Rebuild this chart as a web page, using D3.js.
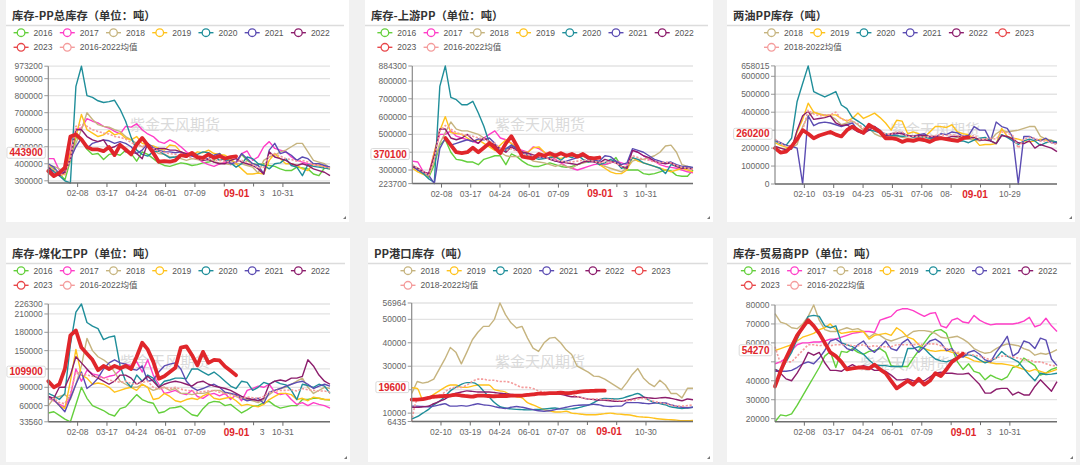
<!DOCTYPE html>
<html><head><meta charset="utf-8">
<script src="https://cdn.jsdelivr.net/npm/d3@7/dist/d3.min.js"></script>
<style>
html,body{margin:0;padding:0;background:#f1f1f1;}
svg{display:block;}
</style></head><body>
<svg id="c" width="1080" height="465"></svg>
<script>
// ---------------- DATA (weekly points, tons) ----------------
const xLabA = ["02-08","03-17","04-24","06-01","07-09","08-16","09-23","10-31"];
const xLabB = ["02-10","03-19","04-23","05-31","07-06","08-12","09-22","10-29"];
const xLabC = ["02-10","03-19","04-24","06-01","07-07","08-14","09-21","10-30"];
const nowLabel = "09-01";
const watermark = "紫金天风期货";

// Panel 1: 库存-PP总库存
const totTicks = [300000,400000,500000,600000,700000,800000,900000,973200];
const tot2016 = [390e3,370e3,345e3,305e3,420e3,555e3,540e3,485e3,455e3,460e3,425e3,455e3,460e3,450e3,480e3,460e3,415e3,470e3,455e3,430e3,405e3,390e3,385e3,395e3,405e3,400e3,390e3,395e3,405e3,410e3,420e3,460e3,430e3,420e3,405e3,455e3,420e3,400e3,395e3,400e3,390e3,385e3,370e3,360e3,360e3,380e3,375e3,370e3,340e3,330e3,375e3,370e3];
const tot2017 = [430e3,430e3,360e3,350e3,470e3,605e3,610e3,665e3,650e3,640e3,620e3,610e3,590e3,575e3,620e3,615e3,635e3,600e3,575e3,560e3,530e3,520e3,540e3,525e3,500e3,470e3,450e3,430e3,410e3,395e3,385e3,400e3,410e3,395e3,405e3,460e3,475e3,420e3,440e3,500e3,530e3,490e3,480e3,470e3,440e3,420e3,410e3,400e3,395e3,390e3,385e3,380e3];
const tot2018 = [390e3,385e3,370e3,355e3,420e3,520e3,600e3,700e3,660e3,630e3,620e3,615e3,600e3,590e3,560e3,540e3,520e3,500e3,510e3,480e3,460e3,455e3,440e3,440e3,430e3,420e3,430e3,425e3,420e3,430e3,410e3,405e3,400e3,395e3,400e3,400e3,390e3,380e3,345e3,420e3,440e3,450e3,470e3,480e3,500e3,520e3,520e3,470e3,420e3,410e3,400e3,375e3];
const tot2019 = [390e3,360e3,330e3,340e3,460e3,560e3,690e3,600e3,580e3,560e3,570e3,595e3,570e3,580e3,550e3,540e3,560e3,520e3,510e3,505e3,490e3,480e3,510e3,505e3,470e3,460e3,450e3,470e3,465e3,480e3,460e3,455e3,450e3,430e3,400e3,370e3,340e3,340e3,345e3,340e3,420e3,460e3,430e3,400e3,400e3,390e3,370e3,360e3,400e3,390e3,380e3,370e3];
const tot2020 = [380e3,355e3,330e3,300e3,287e3,855e3,973.2e3,800e3,790e3,770e3,760e3,765e3,773e3,720e3,650e3,555e3,480e3,455e3,445e3,470e3,475e3,455e3,435e3,440e3,450e3,440e3,460e3,455e3,470e3,465e3,445e3,420e3,430e3,405e3,380e3,400e3,440e3,430e3,400e3,390e3,370e3,400e3,405e3,430e3,390e3,380e3,330e3,395e3,385e3,380e3,375e3,370e3];
const tot2021 = [400e3,380e3,340e3,350e3,430e3,500e3,550e3,490e3,520e3,530e3,540e3,535e3,520e3,530e3,520e3,500e3,460e3,480e3,520e3,495e3,480e3,470e3,470e3,465e3,470e3,450e3,445e3,440e3,430e3,430e3,450e3,460e3,420e3,400e3,410e3,460e3,430e3,400e3,390e3,340e3,480e3,520e3,460e3,470e3,450e3,420e3,440e3,430e3,400e3,400e3,390e3,380e3];
const tot2022 = [380e3,340e3,330e3,350e3,430e3,600e3,600e3,560e3,540e3,530e3,540e3,490e3,500e3,520e3,470e3,470e3,460e3,430e3,520e3,480e3,490e3,490e3,480e3,480e3,470e3,460e3,450e3,430e3,420e3,425e3,410e3,400e3,400e3,420e3,430e3,410e3,400e3,390e3,370e3,340e3,470e3,440e3,430e3,420e3,400e3,390e3,400e3,390e3,370e3,360e3,350e3,330e3];
const totAvg = [390e3,365e3,340e3,335e3,430e3,620e3,630e3,620e3,600e3,590e3,580e3,575e3,560e3,555e3,545e3,525e3,510e3,500e3,510e3,490e3,475e3,465e3,460e3,455e3,450e3,440e3,435e3,430e3,425e3,430e3,420e3,420e3,415e3,410e3,410e3,420e3,410e3,395e3,375e3,380e3,450e3,460e3,445e3,430e3,425e3,415e3,420e3,410e3,395e3,390e3,380e3,375e3];
const tot2023 = [357e3,328e3,347e3,377e3,560e3,572e3,543e3,498e3,484e3,484e3,474e3,498e3,451e3,510e3,484e3,455e3,513e3,552e3,510e3,464e3,412e3,416e3,412e3,420e3,451e3,445e3,464e3,439e3,435e3,455e3,435e3,445e3,431e3,439e3,443.9e3];

// Panel 2: 库存-上游PP
const upTicks = [223700,300000,400000,500000,600000,700000,800000,884300];
const up2016 = [320e3,310e3,290e3,260e3,330e3,440e3,470e3,400e3,360e3,355e3,345e3,345e3,330e3,360e3,370e3,380e3,380e3,330e3,390e3,375e3,350e3,330e3,320e3,320e3,330e3,340e3,330e3,320e3,315e3,320e3,330e3,340e3,350e3,360e3,340e3,330e3,340e3,370e3,320e3,300e3,300e3,300e3,280e3,275e3,280e3,290e3,300e3,295e3,270e3,265e3,265e3,300e3];
const up2017 = [350e3,345e3,290e3,280e3,400e3,500e3,500e3,520e3,490e3,480e3,470e3,460e3,450e3,480e3,500e3,520e3,480e3,470e3,450e3,420e3,410e3,400e3,430e3,420e3,400e3,380e3,360e3,340e3,320e3,310e3,300e3,310e3,320e3,330e3,335e3,330e3,340e3,350e3,340e3,330e3,410e3,400e3,380e3,360e3,350e3,330e3,320e3,315e3,310e3,300e3,290e3,285e3];
const up2018 = [320e3,300e3,280e3,270e3,350e3,450e3,510e3,570e3,530e3,520e3,520e3,510e3,500e3,480e3,460e3,440e3,400e3,380e3,375e3,375e3,380e3,370e3,350e3,345e3,340e3,330e3,320e3,330e3,320e3,310e3,330e3,340e3,345e3,350e3,330e3,320e3,310e3,300e3,290e3,310e3,350e3,360e3,360e3,370e3,380e3,400e3,435e3,440e3,400e3,330e3,320e3,310e3];
const up2019 = [310e3,290e3,275e3,270e3,400e3,520e3,600e3,510e3,505e3,500e3,480e3,460e3,470e3,450e3,430e3,410e3,440e3,470e3,450e3,420e3,400e3,400e3,425e3,430e3,400e3,380e3,370e3,365e3,375e3,380e3,385e3,375e3,370e3,360e3,330e3,310e3,290e3,280e3,280e3,300e3,370e3,350e3,340e3,330e3,320e3,310e3,300e3,290e3,300e3,310e3,300e3,290e3];
const up2020 = [330e3,300e3,280e3,250e3,230e3,770e3,884.3e3,708e3,695e3,667e3,667e3,686e3,620e3,546e3,452e3,430e3,420e3,410e3,440e3,420e3,400e3,380e3,370e3,360e3,365e3,370e3,375e3,355e3,380e3,370e3,385e3,360e3,345e3,350e3,330e3,340e3,360e3,345e3,310e3,320e3,370e3,360e3,340e3,330e3,320e3,310e3,280e3,330e3,320e3,315e3,310e3,310e3];
const up2021 = [320e3,300e3,290e3,270e3,223.7e3,420e3,480e3,440e3,450e3,460e3,470e3,460e3,475e3,470e3,480e3,450e3,400e3,420e3,440e3,420e3,400e3,390e3,380e3,370e3,370e3,365e3,350e3,345e3,350e3,360e3,370e3,380e3,360e3,355e3,350e3,380e3,375e3,350e3,330e3,340e3,420e3,410e3,400e3,380e3,360e3,350e3,340e3,345e3,330e3,320e3,320e3,315e3];
const up2022 = [320e3,310e3,290e3,280e3,380e3,530e3,530e3,480e3,470e3,480e3,500e3,470e3,450e3,480e3,460e3,440e3,420e3,400e3,430e3,410e3,400e3,395e3,385e3,380e3,375e3,360e3,350e3,345e3,340e3,335e3,330e3,345e3,350e3,345e3,340e3,360e3,350e3,340e3,320e3,310e3,410e3,400e3,380e3,370e3,350e3,340e3,335e3,340e3,320e3,310e3,310e3,305e3];
const upAvg = [330e3,310e3,290e3,270e3,360e3,520e3,550e3,530e3,510e3,500e3,495e3,490e3,480e3,475e3,460e3,450e3,420e3,410e3,420e3,405e3,390e3,385e3,380e3,375e3,370e3,365e3,355e3,350e3,345e3,345e3,350e3,355e3,355e3,350e3,340e3,345e3,345e3,340e3,320e3,320e3,380e3,370e3,360e3,355e3,345e3,340e3,345e3,340e3,325e3,315e3,310e3,305e3];
const up2023 = [null,null,null,null,null,null,480e3,440e3,400e3,395e3,400e3,425e3,400e3,425e3,450e3,425e3,395e3,450e3,490e3,435e3,375e3,370e3,365e3,390e3,380e3,395e3,380e3,395e3,380e3,390e3,375e3,390e3,370e3,365e3,370.1e3];

// Panel 3: 两油PP库存
const lyTicks = [0,100000,200000,300000,400000,500000,600000,658015];
const ly2018 = [210e3,200e3,195e3,200e3,220e3,320e3,380e3,400e3,390e3,385e3,380e3,360e3,330e3,340e3,350e3,330e3,300e3,310e3,280e3,265e3,265e3,260e3,265e3,260e3,255e3,250e3,245e3,245e3,250e3,250e3,250e3,255e3,250e3,260e3,255e3,250e3,245e3,240e3,250e3,245e3,280e3,300e3,290e3,295e3,300e3,310e3,320e3,320e3,265e3,250e3,245e3,225e3];
const ly2019 = [230e3,215e3,205e3,200e3,290e3,360e3,450e3,400e3,390e3,380e3,385e3,385e3,365e3,350e3,365e3,395e3,365e3,380e3,395e3,370e3,340e3,300e3,355e3,350e3,280e3,290e3,280e3,260e3,290e3,320e3,320e3,315e3,330e3,290e3,280e3,275e3,250e3,215e3,220e3,220e3,225e3,310e3,265e3,255e3,250e3,240e3,235e3,240e3,250e3,245e3,240e3,230e3];
const ly2020 = [240e3,225e3,215e3,255e3,460e3,560e3,658.015e3,515e3,500e3,485e3,500e3,515e3,440e3,420e3,370e3,350e3,330e3,300e3,295e3,285e3,280e3,270e3,270e3,265e3,270e3,260e3,265e3,260e3,255e3,250e3,260e3,255e3,250e3,240e3,240e3,230e3,245e3,255e3,260e3,240e3,225e3,275e3,260e3,240e3,220e3,240e3,250e3,240e3,215e3,230e3,240e3,235e3];
const ly2021 = [245e3,230e3,215e3,210e3,200e3,0,380e3,325e3,340e3,345e3,340e3,330e3,320e3,330e3,340e3,300e3,280e3,320e3,320e3,300e3,270e3,275e3,280e3,285e3,270e3,265e3,275e3,280e3,260e3,260e3,280e3,275e3,290e3,285e3,265e3,270e3,320e3,300e3,300e3,240e3,345e3,320e3,310e3,260e3,0,265e3,265e3,250e3,240e3,255e3,230e3,230e3];
const ly2022 = [210e3,200e3,190e3,195e3,300e3,380e3,405e3,360e3,365e3,370e3,380e3,340e3,325e3,330e3,310e3,290e3,280e3,300e3,320e3,290e3,270e3,280e3,285e3,280e3,270e3,265e3,270e3,270e3,265e3,265e3,260e3,255e3,265e3,265e3,265e3,255e3,260e3,245e3,245e3,240e3,225e3,270e3,265e3,250e3,230e3,225e3,240e3,200e3,220e3,210e3,200e3,180e3];
const lyAvg = [250e3,225e3,210e3,210e3,240e3,300e3,410e3,390e3,380e3,385e3,385e3,400e3,360e3,355e3,350e3,335e3,310e3,320e3,310e3,295e3,280e3,275e3,290e3,290e3,265e3,265e3,265e3,260e3,265e3,270e3,275e3,270e3,275e3,270e3,265e3,260e3,270e3,250e3,250e3,255e3,250e3,290e3,285e3,270e3,200e3,250e3,260e3,255e3,240e3,240e3,230e3,220e3];
const ly2023 = [200e3,175e3,180e3,210e3,250e3,300e3,280e3,255e3,270e3,280e3,290e3,275e3,265e3,300e3,320e3,300e3,285e3,330e3,310e3,290e3,255e3,255e3,250e3,235e3,245e3,240e3,250e3,245e3,235e3,250e3,255e3,250e3,245e3,240e3,255e3,260.2e3];

// Panel 4: 库存-煤化工PP
const mhTicks = [33560,60000,90000,120000,150000,180000,210000,226300];
const mh2016 = [48e3,50e3,44e3,38e3,33.56e3,62e3,90e3,72e3,60e3,56e3,52e3,46e3,43e3,55e3,58e3,68e3,78e3,70e3,66e3,64e3,48e3,50e3,56e3,57e3,59e3,52e3,45e3,43e3,55e3,64e3,67e3,66e3,60e3,62e3,55e3,48e3,53e3,59e3,60e3,65e3,67e3,60e3,56e3,58e3,60e3,60e3,70e3,70e3,72e3,72e3,70e3,69e3];
const mh2017 = [72e3,68e3,62e3,58e3,75e3,120e3,100e3,118e3,112e3,110e3,105e3,108e3,110e3,118e3,128e3,125e3,132e3,115e3,135e3,110e3,95e3,80e3,82e3,85e3,80e3,78e3,85e3,75e3,72e3,78e3,80e3,76e3,80e3,70e3,78e3,68e3,85e3,88e3,92e3,90e3,95e3,82e3,78e3,80e3,70e3,62e3,65e3,60e3,65e3,62e3,60e3,56e3];
const mh2018 = [60e3,72e3,75e3,78e3,70e3,95e3,125e3,170e3,150e3,140e3,135e3,128e3,115e3,100e3,95e3,90e3,90e3,95e3,90e3,85e3,88e3,90e3,85e3,88e3,80e3,80e3,78e3,80e3,80e3,82e3,85e3,85e3,80e3,80e3,75e3,72e3,70e3,68e3,65e3,70e3,78e3,85e3,88e3,90e3,95e3,100e3,105e3,90e3,80e3,85e3,90e3,88e3];
const mh2019 = [75e3,70e3,60e3,55e3,100e3,152e3,110e3,105e3,95e3,97e3,95e3,90e3,82e3,85e3,88e3,90e3,85e3,95e3,90e3,70e3,72e3,80e3,75e3,68e3,66e3,70e3,72e3,70e3,76e3,80e3,72e3,70e3,72e3,74e3,68e3,60e3,62e3,60e3,58e3,62e3,70e3,75e3,80e3,80e3,78e3,70e3,72e3,68e3,74e3,72e3,70e3,70e3];
const mh2020 = [80e3,76e3,70e3,80e3,160e3,213e3,226.3e3,196e3,190e3,186e3,168e3,172e3,174e3,125e3,100e3,90e3,110e3,100e3,110e3,105e3,90e3,100e3,102e3,105e3,105e3,104e3,120e3,120e3,115e3,110e3,115e3,108e3,100e3,92e3,88e3,100e3,98e3,85e3,90e3,98e3,95e3,100e3,96e3,94e3,85e3,70e3,95e3,93e3,90e3,95e3,92e3,80e3];
const mh2021 = [75e3,70e3,60e3,50e3,72e3,95e3,115e3,88e3,95e3,105e3,120e3,130e3,135e3,130e3,128e3,120e3,118e3,125e3,100e3,102e3,115e3,125e3,128e3,130e3,120e3,100e3,90e3,85e3,88e3,92e3,95e3,90e3,82e3,80e3,78e3,72e3,68e3,70e3,72e3,64e3,82e3,85e3,88e3,92e3,95e3,98e3,100e3,95e3,88e3,92e3,95e3,92e3];
const mh2022 = [75e3,72e3,90e3,90e3,110e3,140e3,130e3,120e3,110e3,105e3,100e3,95e3,100e3,110e3,110e3,105e3,95e3,100e3,108e3,100e3,90e3,95e3,98e3,100e3,98e3,95e3,92e3,98e3,100e3,95e3,92e3,90e3,88e3,85e3,80e3,75e3,72e3,70e3,68e3,72e3,95e3,100e3,102e3,100e3,105e3,105e3,108e3,135e3,125e3,110e3,100e3,95e3];
const mhAvg = [70e3,72e3,65e3,63e3,80e3,115e3,112e3,110e3,108e3,107e3,105e3,102e3,100e3,98e3,100e3,96e3,95e3,98e3,100e3,90e3,87e3,90e3,88e3,90e3,87e3,85e3,84e3,82e3,83e3,84e3,85e3,82e3,80e3,78e3,76e3,72e3,74e3,73e3,72e3,75e3,82e3,84e3,85e3,85e3,86e3,84e3,88e3,86e3,85e3,84e3,84e3,82e3];
const mh2023 = [100e3,90e3,95e3,120e3,175e3,183e3,155e3,145e3,135e3,118e3,125e3,120e3,125e3,121e3,125e3,120e3,140e3,163e3,152e3,132e3,104e3,108e3,115e3,122e3,155e3,157e3,143e3,126e3,148e3,130e3,135e3,134e3,124e3,117e3,109.9e3];

// Panel 5: PP港口库存
const portTicks = [6435,10000,20000,30000,40000,50000,56964];
const port2018 = [18.4e3,23.5e3,22.8e3,23.3e3,24.5e3,28.8e3,33e3,38e3,36e3,31e3,36e3,41.3e3,44.5e3,47e3,47e3,50e3,56.964e3,52e3,48.5e3,46.3e3,47e3,42e3,37.7e3,36.3e3,40e3,42e3,42.3e3,40e3,37e3,35e3,30e3,28.8e3,27.5e3,25.8e3,25.6e3,24.5e3,23e3,21.5e3,20e3,23e3,26.5e3,29e3,25e3,22.7e3,21.3e3,24e3,22e3,18.4e3,18.4e3,16.5e3,20.6e3,20.6e3];
const port2019 = [20.8e3,20.5e3,16e3,16.5e3,18e3,19.5e3,21e3,22e3,22e3,21e3,21e3,21.5e3,22e3,22e3,22e3,20e3,19.5e3,19e3,17.5e3,17e3,16.5e3,14.5e3,13.5e3,12.5e3,11.5e3,11e3,10.5e3,10.5e3,10.8e3,10e3,9.8e3,9.5e3,9.3e3,9.3e3,9.5e3,9.8e3,10e3,9.7e3,9.5e3,9.3e3,9e3,8.5e3,8.3e3,8.2e3,7.8e3,7.5e3,7.3e3,7.2e3,7e3,6.8e3,6.8e3,6.9e3];
const port2020 = [7.5e3,8.5e3,10e3,11.5e3,13.5e3,15e3,17e3,19.5e3,21e3,22.3e3,23e3,23e3,22e3,19.5e3,17e3,14.5e3,12.8e3,12.2e3,11.8e3,11.6e3,11.5e3,11.4e3,11.5e3,11.6e3,11.8e3,12e3,12.2e3,11.8e3,11.7e3,11.8e3,12.2e3,12.8e3,13.4e3,14.5e3,15.8e3,16.3e3,16.2e3,16e3,16.3e3,17e3,17.7e3,18.4e3,17e3,15.5e3,14.5e3,14.1e3,13.5e3,12.7e3,12.3e3,12e3,12.2e3,12.5e3];
const port2021 = [13e3,13e3,12.8e3,12.7e3,13e3,13.5e3,14e3,13e3,13e3,13.2e3,13e3,13.5e3,14e3,13.5e3,13.3e3,12.8e3,12.3e3,12e3,12.5e3,12.8e3,12.5e3,12e3,11.5e3,11e3,10.8e3,11e3,11.5e3,12e3,12.5e3,13e3,13.3e3,13.5e3,13.5e3,13.8e3,13.5e3,13e3,12.8e3,13e3,13e3,14.5e3,14.5e3,14.5e3,14.2e3,14e3,14.3e3,14.5e3,14.3e3,13.5e3,13e3,12.5e3,12.3e3,12.5e3];
const port2022 = [12.5e3,12.5e3,12.7e3,13e3,14e3,15e3,16e3,17.5e3,18.5e3,19e3,19.5e3,19.3e3,19e3,19e3,19e3,18.8e3,18.5e3,18.3e3,18e3,17.8e3,17.8e3,18e3,18e3,18e3,18.3e3,18.5e3,18.3e3,18e3,17.5e3,17e3,17e3,16.5e3,16e3,15.8e3,15.6e3,15.5e3,15.3e3,15e3,15e3,15.5e3,16e3,16.5e3,16.8e3,16.5e3,16.3e3,16.5e3,16.7e3,16.3e3,15.8e3,15.3e3,16e3,15.7e3];
const portAvg = [6.435e3,15.5e3,16e3,16e3,16.5e3,17e3,19e3,20.5e3,21e3,21e3,22e3,23.5e3,24.5e3,24.5e3,24e3,24e3,23.5e3,23.5e3,23e3,22e3,21e3,21e3,20.5e3,19.5e3,19e3,18.5e3,18.5e3,18.5e3,18.5e3,18e3,17e3,16.5e3,16e3,16e3,16e3,15.8e3,15.8e3,15.5e3,15.3e3,15.3e3,15.5e3,16e3,16.3e3,15.5e3,15e3,14.5e3,14e3,13.5e3,13e3,13e3,13.2e3,13.5e3];
const port2023 = [15.8e3,15.8e3,16e3,16.5e3,17e3,17.2e3,17.3e3,17.5e3,17.8e3,17.5e3,17.3e3,17e3,17.5e3,17.5e3,17.3e3,17.2e3,17.3e3,17.3e3,17.5e3,17.5e3,17.5e3,17.8e3,18e3,18.3e3,18.3e3,18.5e3,18.5e3,18.7e3,18.5e3,18.6e3,19e3,19.3e3,19.4e3,19.5e3,19.6e3,19.6e3];

// Panel 6: 库存-贸易商PP
const trdTicks = [20000,30000,40000,50000,60000,70000,80000];
const trd2016 = [18.4e3,22e3,21.5e3,22.5e3,27e3,32e3,37e3,42e3,47e3,53e3,55.5e3,47e3,55.5e3,55e3,57e3,55e3,54e3,55.5e3,56e3,57e3,55e3,48e3,47.5e3,47.5e3,47.5e3,52e3,56e3,60e3,64e3,66.5e3,67e3,65e3,57e3,50e3,46e3,49e3,45e3,44e3,40.5e3,43e3,41.5e3,40.5e3,42e3,47e3,48e3,52e3,50e3,48e3,43e3,44e3,46e3,47e3];
const trd2017 = [49e3,50e3,52e3,56e3,59e3,60e3,60e3,60.5e3,60.5e3,61e3,62e3,62e3,63e3,64e3,65e3,65.5e3,66e3,66e3,65.5e3,72e3,73e3,74e3,77e3,78e3,78e3,77e3,75.5e3,74e3,75.5e3,76e3,69e3,68e3,72e3,73e3,71e3,70.5e3,74.5e3,72e3,70.5e3,69.5e3,70e3,70e3,70e3,70e3,70.5e3,71.5e3,73.5e3,68.5e3,69.5e3,73e3,69e3,66e3];
const trd2018 = [75.5e3,71e3,70e3,68e3,67.5e3,70e3,74e3,80e3,72e3,67e3,66e3,66e3,67e3,68e3,67e3,67.5e3,66e3,63e3,65e3,64e3,62e3,61e3,62e3,63e3,64e3,66e3,66.5e3,66.5e3,66e3,65e3,63e3,62.5e3,63e3,63.5e3,62e3,60e3,57e3,55.5e3,54.5e3,55e3,57e3,58.5e3,59.5e3,59e3,58.5e3,57e3,56e3,53.5e3,54.5e3,54e3,55e3,56.5e3];
const trd2019 = [56e3,57e3,58e3,59e3,61e3,63e3,64e3,65e3,67e3,68e3,70e3,67e3,65e3,65.5e3,66e3,66e3,66e3,62e3,64e3,64.5e3,65e3,64e3,68e3,66e3,63e3,62e3,59e3,57e3,56e3,55.5e3,56e3,56e3,55e3,54.5e3,53e3,52e3,50.5e3,50e3,50e3,49.5e3,49e3,49e3,48.5e3,48e3,47e3,46e3,45e3,46e3,45e3,44e3,45e3,46e3];
const trd2020 = [46e3,45e3,50e3,55e3,62e3,68e3,74e3,74.5e3,74e3,69e3,68e3,69e3,60e3,59e3,58e3,56e3,54e3,51e3,48.5e3,48e3,48e3,47.5e3,47.5e3,47.5e3,57e3,57e3,58e3,57e3,54e3,51.5e3,50.5e3,50e3,51e3,52.5e3,53e3,53.8e3,53e3,51e3,49.5e3,50.5e3,52e3,55.5e3,53e3,51.5e3,50e3,46.5e3,43e3,40e3,44e3,43.3e3,43.5e3,44e3];
const trd2021 = [45e3,45e3,45e3,45.5e3,47e3,49e3,50e3,49e3,52e3,56e3,61e3,62e3,60e3,57e3,56e3,59e3,61e3,57e3,55e3,58e3,61e3,57e3,56e3,60e3,62e3,58e3,55e3,58e3,61e3,62e3,60e3,56e3,57e3,53e3,52.5e3,55e3,56e3,54e3,51e3,50e3,55e3,59e3,63.5e3,53e3,55e3,61e3,60e3,57e3,62.5e3,61.5e3,51.5e3,48e3];
const trd2022 = [46e3,44e3,41e3,40e3,44e3,49e3,55e3,53.5e3,55e3,49.5e3,45.5e3,45.5e3,45e3,47e3,48.5e3,47e3,48e3,47e3,45.5e3,45.5e3,45e3,43e3,40.5e3,40.5e3,41e3,40e3,39.5e3,40e3,42e3,44e3,44.5e3,44e3,44e3,43.5e3,43.5e3,44e3,41e3,38e3,33.5e3,33.5e3,35.5e3,36e3,36e3,32.5e3,34e3,32.5e3,32.5e3,37e3,40.5e3,37.5e3,34.5e3,39.5e3];
const trdAvg = [58e3,49e3,50e3,50e3,53e3,56e3,59e3,59e3,58.5e3,59e3,58.5e3,59e3,59e3,59e3,58.5e3,58.5e3,59e3,58e3,58.5e3,58e3,58e3,58e3,59e3,59e3,59e3,59e3,59.5e3,59e3,59.5e3,59.5e3,58.5e3,57e3,56e3,55e3,55e3,54e3,53.5e3,53e3,52e3,51e3,52e3,53e3,53e3,52.5e3,52e3,51e3,51e3,50e3,50e3,49e3,48e3,48e3];
const trd2023 = [37e3,45e3,52e3,58e3,64e3,68e3,72e3,69e3,65e3,60e3,55e3,53e3,50e3,46e3,46.5e3,47e3,47e3,46.5e3,48.5e3,46e3,44e3,40e3,36e3,38e3,40e3,38e3,41e3,38e3,40e3,44e3,42.5e3,46e3,50e3,52e3,54.27e3];

// ---------------- STYLE / LAYOUT ----------------
const COLORS = {"2016":"#64cf3c","2017":"#ff3ec8","2018":"#c6b47f","2019":"#ffc21c","2020":"#1f8e9a","2021":"#5b4cb2","2022":"#8c1d6c","2023":"#e0262b","avg":"#f49c9c"};
const LEG_COLORS = Object.assign({}, COLORS, {"2023":"#e8474a"});
const NUM_FONT = "'Liberation Sans', Arial, 'Noto Sans CJK SC', sans-serif";
const CJK_FONT = "'Noto Sans CJK SC', sans-serif";

const panels = [
  {title:"库存-PP总库存（单位：吨）", box:[6,0,343,222], plot:[48.3,66.2,330,183], legCx:171.7,
   names:["2016","2017","2018","2019","2020","2021","2022"], data:[tot2016,tot2017,tot2018,tot2019,tot2020,tot2021,tot2022],
   avgName:"2016-2022均值", avg:totAvg, cur:tot2023, ticks:totTicks, hidden:[], xlab:xLabA, nowSlot:244, wm:[175,123]},
  {title:"库存-上游PP（单位：吨）", box:[365,0,348,222], plot:[412.3,66,693,183.6], legCx:535.5,
   names:["2016","2017","2018","2019","2020","2021","2022"], data:[up2016,up2017,up2018,up2019,up2020,up2021,up2022],
   avgName:"2016-2022均值", avg:upAvg, cur:up2023, ticks:upTicks, hidden:[400000], xlab:xLabA, nowSlot:244, wm:[540,123]},
  {title:"两油PP库存（吨）", box:[727,0,348,222], plot:[775,65.9,1057,184], legCx:899,
   names:["2018","2019","2020","2021","2022"], data:[ly2018,ly2019,ly2020,ly2021,ly2022],
   avgName:"2018-2022均值", avg:lyAvg, cur:ly2023, ticks:lyTicks, hidden:[300000], xlab:xLabB, nowSlot:259, wm:[935,128]},
  {title:"库存-煤化工PP（单位：吨）", box:[6,238,344,224], plot:[48.3,304,330,421.8], legCx:171.7,
   names:["2016","2017","2018","2019","2020","2021","2022"], data:[mh2016,mh2017,mh2018,mh2019,mh2020,mh2021,mh2022],
   avgName:"2016-2022均值", avg:mhAvg, cur:mh2023, ticks:mhTicks, hidden:[120000], xlab:xLabA, nowSlot:244, wm:[165,360]},
  {title:"PP港口库存（吨）", box:[368,238,345,224], plot:[411.7,303,693,421.5], legCx:535.5,
   names:["2018","2019","2020","2021","2022"], data:[port2018,port2019,port2020,port2021,port2022],
   avgName:"2018-2022均值", avg:portAvg, cur:port2023, ticks:portTicks, hidden:[20000], xlab:xLabC, nowSlot:256, wm:[540,360], smooth:true},
  {title:"库存-贸易商PP（单位：吨）", box:[727,238,349,224], plot:[775,305,1057,421.7], legCx:899,
   names:["2016","2017","2018","2019","2020","2021","2022"], data:[trd2016,trd2017,trd2018,trd2019,trd2020,trd2021,trd2022],
   avgName:"2016-2022均值", avg:trdAvg, cur:trd2023, ticks:trdTicks, hidden:[50000], xlab:xLabA, nowSlot:244, wm:[905,362]}
];
const xTickSlots = [38,76,114,152,190,228,266,304];
const WEEK = 365/51;

// ---------------- DRAW ----------------
const svg = d3.select("#c");
svg.append("rect").attr("width",1080).attr("height",465).attr("fill","#f1f1f1");

const measurer = svg.append("text").attr("visibility","hidden");
function textW(str, size, weight, family){
  measurer.attr("font-size",size).attr("font-weight",weight||"normal").attr("font-family",family||NUM_FONT).text(str);
  return measurer.node().getComputedTextLength();
}

panels.forEach(p => {
  const [bx,by,bw,bh] = p.box;
  const [x0,yT,x1,yB] = p.plot;
  const g = svg.append("g");
  g.append("rect").attr("x",bx).attr("y",by).attr("width",bw).attr("height",bh).attr("fill","#fff");
  // title
  g.append("text").attr("x",bx+6).attr("y",by+15).attr("dominant-baseline","central")
    .attr("font-family",CJK_FONT).attr("font-weight","bold").attr("font-size",11.3).attr("fill","#333").text(p.title);
  g.append("line").attr("x1",bx).attr("x2",bx+bw-5).attr("y1",by+25.5).attr("y2",by+25.5)
    .attr("stroke","#dcdcdc").attr("stroke-width",1.5);
  // resize glyph
  const cx = bx+bw-3, cy = by+bh-3;
  g.append("path").attr("d",`M${cx},${cy-3}L${cx},${cy}L${cx-3},${cy}Z`).attr("fill","#777");

  // legend
  const items = p.names.map(n => ({label:n, key:n})).concat([{label:"2023",key:"2023"},{label:p.avgName,key:"avg"}]);
  const nRow1 = p.names.length + (p.names.length===7 ? 0 : 1);
  const fs = 8.5, gap = 7.3;
  const widths = items.map(it => 20 + textW(it.label, fs));
  const w1 = d3.sum(widths.slice(0,nRow1)) + gap*(nRow1-1);
  const left = p.legCx - w1/2;
  let lx = left;
  items.forEach((it,k) => {
    if (k===nRow1) lx = left;
    const ly = by + (k<nRow1 ? 32.7 : 47.3);
    const c = LEG_COLORS[it.key];
    g.append("line").attr("x1",lx).attr("x2",lx+15).attr("y1",ly).attr("y2",ly).attr("stroke",c).attr("stroke-width",1.4);
    g.append("circle").attr("cx",lx+7.5).attr("cy",ly).attr("r",3.8).attr("fill","#fff").attr("stroke",c).attr("stroke-width",1.3);
    g.append("text").attr("x",lx+20).attr("y",ly).attr("dominant-baseline","central")
      .attr("font-family",NUM_FONT).attr("font-size",fs).attr("fill","#555").text(it.label);
    lx += widths[k] + gap;
  });

  // scales
  const all = p.data.flat().concat(p.avg, p.cur).filter(v => v!=null);
  const ys = d3.scaleLinear().domain(d3.extent(all)).range([yB,yT]);
  const xs = d3.scaleLinear().domain([0,365]).range([x0,x1]);

  // grid + y labels
  p.ticks.forEach(t => {
    const y = ys(t);
    g.append("line").attr("x1",x0).attr("x2",x1).attr("y1",y).attr("y2",y).attr("stroke","#e3e3e3").attr("stroke-width",1.3);
    g.append("line").attr("x1",x0-4).attr("x2",x0).attr("y1",y).attr("y2",y).attr("stroke","#999").attr("stroke-width",1);
    if (p.hidden.indexOf(t) < 0) {
      g.append("text").attr("x",x0-5.5).attr("y",y).attr("text-anchor","end").attr("dominant-baseline","central")
        .attr("font-family",NUM_FONT).attr("font-size",8.5).attr("fill","#666").text(d3.format("d")(t));
    }
  });

  // watermark
  g.append("text").attr("x",p.wm[0]).attr("y",p.wm[1]).attr("text-anchor","middle").attr("dominant-baseline","central")
    .attr("font-family",CJK_FONT).attr("font-size",15).attr("fill","#dadada").text(watermark);

  // lines
  const mkLine = smooth => d3.line().defined(d => d!=null).x((d,i) => xs(i*WEEK)).y(d => ys(d))
      .curve(smooth ? d3.curveMonotoneX : d3.curveLinear);
  const plotG = g.append("g");
  p.names.forEach((n,k) => {
    plotG.append("path").attr("d", mkLine(p.smooth && n!=="2018")(p.data[k])).attr("fill","none")
      .attr("stroke",COLORS[n]).attr("stroke-width",1.4).attr("stroke-linejoin","round");
  });
  plotG.append("path").attr("d", mkLine(p.smooth)(p.avg)).attr("fill","none")
    .attr("stroke",COLORS.avg).attr("stroke-width",1.6).attr("stroke-dasharray","2.2,1.6");
  plotG.append("path").attr("d", mkLine(p.smooth)(p.cur)).attr("fill","none")
    .attr("stroke",COLORS["2023"]).attr("stroke-width",3.8).attr("stroke-linejoin","round").attr("stroke-linecap","round");

  // axes
  g.append("line").attr("x1",x0).attr("x2",x0).attr("y1",yT).attr("y2",yB).attr("stroke","#8a8a8a").attr("stroke-width",1.2);
  g.append("line").attr("x1",x0).attr("x2",x1).attr("y1",yB).attr("y2",yB).attr("stroke","#6e6e6e").attr("stroke-width",1.5);

  // x pointer label box extent
  const nx = xs(p.nowSlot);
  const nw = textW(nowLabel, 10, "bold");
  const boxL = nx-nw/2-10.5, boxR = nx+nw/2+10.5;
  const tol = 2;

  xTickSlots.forEach((s,k) => {
    const x = xs(s);
    g.append("line").attr("x1",x).attr("x2",x).attr("y1",yB).attr("y2",yB+4).attr("stroke","#6e6e6e").attr("stroke-width",1);
    let str = p.xlab[k];
    const fw = textW(str, 8.5);
    const l = x - fw/2, r = x + fw/2;
    let anchor = "middle", ax = x;
    if (r > boxL + tol && l < boxR - tol) {
      if (x < nx) { // trim from the right
        while (str.length && l + textW(str,8.5) > boxL + tol) str = str.slice(0,-1);
        anchor = "start"; ax = l;
      } else {      // trim from the left
        while (str.length && r - textW(str,8.5) < boxR - tol) str = str.slice(1);
        anchor = "end"; ax = r;
      }
    }
    if (str.length) {
      g.append("text").attr("x",ax).attr("y",yB+10).attr("text-anchor",anchor).attr("dominant-baseline","central")
        .attr("font-family",NUM_FONT).attr("font-size",8.5).attr("fill","#666").text(str);
    }
  });

  // x pointer label "09-01"
  g.append("rect").attr("x",boxL).attr("y",yB+3.5).attr("width",boxR-boxL).attr("height",13).attr("fill","#fff");
  g.append("text").attr("x",nx).attr("y",yB+10.3).attr("text-anchor","middle").attr("dominant-baseline","central")
    .attr("font-family",NUM_FONT).attr("font-weight","bold").attr("font-size",10).attr("fill","#e0262b").text(nowLabel);

  // y pointer label (latest value)
  const last = p.cur[p.cur.length-1];
  const lab = d3.format("d")(last);
  const lw = textW(lab, 10, "bold");
  const ly = ys(last) - 3.5;
  g.append("rect").attr("x",x0-5-lw-3).attr("y",ly-5.5).attr("width",lw+5).attr("height",11).attr("rx",1.5)
    .attr("fill","#fff").attr("stroke","#d0d0d0").attr("stroke-width",0.8);
  g.append("text").attr("x",x0-5.5).attr("y",ly).attr("text-anchor","end").attr("dominant-baseline","central")
    .attr("font-family",NUM_FONT).attr("font-weight","bold").attr("font-size",10).attr("fill","#e0262b").text(lab);
});
measurer.remove();
</script>
</body></html>
